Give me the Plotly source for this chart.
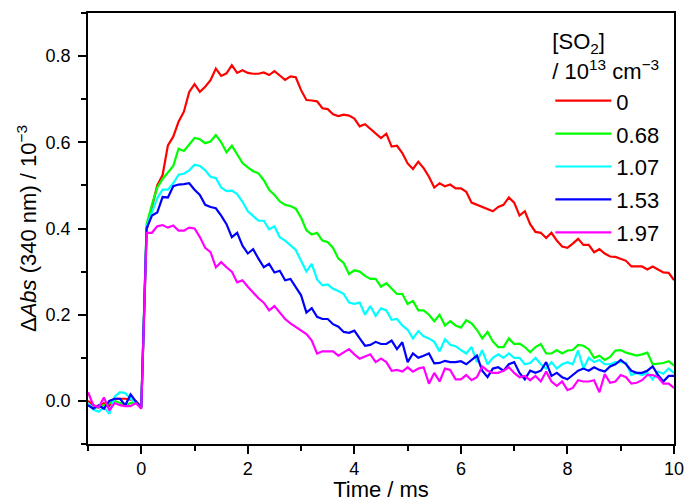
import plotly.graph_objects as go

time_ms = [round(-1.0 + 0.1 * i, 1) for i in range(111)]

so2_labels = ["0", "0.68", "1.07", "1.53", "1.97"]
line_colors = ["#FF0000", "#00FF00", "#00FFFF", "#0000FF", "#FF00FF"]

abs_0 = [0.0, -0.01, -0.015, -0.005, -0.012, 0.005, 0.005, 0.005, 0.003, 0.0, -0.015,
         0.396, 0.45, 0.5, 0.524, 0.593, 0.613, 0.648, 0.671, 0.717, 0.735,
         0.717, 0.729, 0.744, 0.771, 0.754, 0.76, 0.779, 0.761, 0.767, 0.761,
         0.759, 0.759, 0.762, 0.756, 0.765, 0.755, 0.745, 0.753, 0.751, 0.721,
         0.698, 0.697, 0.695, 0.679, 0.677, 0.665, 0.661, 0.664, 0.662, 0.655,
         0.637, 0.642, 0.632, 0.62, 0.61, 0.62, 0.59, 0.592, 0.575, 0.551,
         0.538, 0.555, 0.54, 0.52, 0.495, 0.505, 0.498, 0.502, 0.493, 0.493,
         0.485, 0.46, 0.455, 0.45, 0.445, 0.44, 0.45, 0.455, 0.472, 0.46,
         0.43, 0.44, 0.41, 0.392, 0.39, 0.378, 0.39, 0.372, 0.358, 0.355,
         0.365, 0.376, 0.362, 0.362, 0.345, 0.352, 0.342, 0.335, 0.334, 0.33,
         0.325, 0.312, 0.312, 0.312, 0.305, 0.312, 0.305, 0.298, 0.297, 0.28]

abs_068 = [-0.01, -0.015, -0.015, -0.01, -0.005, 0.0, -0.005, -0.01, -0.005, -0.002, -0.015,
           0.41, 0.455, 0.495, 0.515, 0.53, 0.545, 0.585, 0.58, 0.595, 0.61,
           0.607, 0.598, 0.602, 0.617, 0.6, 0.577, 0.592, 0.572, 0.552, 0.542,
           0.533, 0.528, 0.512, 0.49, 0.478, 0.463, 0.455, 0.452, 0.446, 0.425,
           0.396, 0.386, 0.39, 0.372, 0.368, 0.355, 0.33, 0.32, 0.294, 0.303,
           0.3, 0.29, 0.283, 0.283, 0.265, 0.273, 0.26, 0.248, 0.248, 0.225,
           0.232, 0.21, 0.21, 0.2, 0.185, 0.2, 0.175, 0.185, 0.175, 0.17,
           0.187, 0.18, 0.165, 0.145, 0.16, 0.138, 0.125, 0.125, 0.145, 0.132,
           0.133, 0.125, 0.113, 0.125, 0.132, 0.11, 0.11, 0.118, 0.11, 0.117,
           0.118, 0.13, 0.128, 0.12, 0.1, 0.105, 0.095, 0.102, 0.117, 0.118,
           0.112, 0.108, 0.105, 0.108, 0.112, 0.085, 0.087, 0.088, 0.092, 0.082]

abs_107 = [-0.005, -0.02, -0.025, -0.015, -0.03, 0.01, 0.02, 0.018, 0.005, -0.005, -0.015,
           0.405, 0.44, 0.47, 0.49, 0.49, 0.505, 0.525, 0.527, 0.535, 0.548,
           0.545, 0.535, 0.52, 0.517, 0.495, 0.487, 0.488, 0.48, 0.462, 0.44,
           0.43, 0.418, 0.418, 0.398, 0.405, 0.38, 0.372, 0.362, 0.35, 0.325,
           0.3, 0.318, 0.282, 0.268, 0.27, 0.26, 0.255, 0.248, 0.228, 0.225,
           0.228, 0.2, 0.22, 0.197, 0.215, 0.21, 0.188, 0.19, 0.175, 0.165,
           0.145, 0.162, 0.15, 0.145, 0.137, 0.115, 0.143, 0.13, 0.127, 0.118,
           0.11, 0.125, 0.09, 0.118, 0.085, 0.1, 0.108, 0.1, 0.11, 0.1,
           0.1, 0.085, 0.088, 0.1, 0.085, 0.075, 0.09, 0.075, 0.085, 0.09,
           0.085, 0.117, 0.075, 0.1, 0.09, 0.095, 0.085, 0.085, 0.09, 0.09,
           0.088, 0.06, 0.065, 0.06, 0.065, 0.05, 0.068, 0.063, 0.075, 0.065]

abs_153 = [-0.01, -0.018, -0.01, -0.018, 0.0, 0.005, 0.005, -0.01, 0.015, -0.002, -0.015,
           0.4, 0.43, 0.437, 0.473, 0.472, 0.498, 0.502, 0.503, 0.505, 0.49,
           0.478, 0.455, 0.45, 0.447, 0.43, 0.41, 0.38, 0.39, 0.36, 0.342,
           0.352, 0.33, 0.31, 0.318, 0.298, 0.302, 0.28, 0.283, 0.265, 0.245,
           0.205, 0.215, 0.195, 0.19, 0.19, 0.178, 0.172, 0.16, 0.158, 0.163,
           0.145, 0.128, 0.13, 0.137, 0.132, 0.132, 0.14, 0.12, 0.136, 0.09,
           0.11, 0.1, 0.105, 0.11, 0.087, 0.088, 0.093, 0.09, 0.09, 0.092,
           0.085, 0.095, 0.105, 0.07, 0.055, 0.075, 0.078, 0.07, 0.085, 0.09,
           0.065, 0.05, 0.07, 0.065, 0.07, 0.09, 0.058, 0.065, 0.055, 0.05,
           0.06, 0.07, 0.075, 0.07, 0.078, 0.072, 0.068, 0.08, 0.085, 0.095,
           0.085, 0.07, 0.065, 0.065, 0.07, 0.08, 0.06, 0.045, 0.058, 0.058]

abs_197 = [0.02, -0.01, -0.015, 0.008, -0.022, -0.005, -0.01, -0.012, -0.012, -0.005, -0.018,
           0.39, 0.39, 0.405, 0.408, 0.402, 0.407, 0.395, 0.395, 0.402, 0.4,
           0.38, 0.355, 0.345, 0.31, 0.322, 0.31, 0.3, 0.275, 0.28, 0.265,
           0.252, 0.238, 0.228, 0.21, 0.22, 0.205, 0.19, 0.18, 0.172, 0.162,
           0.155, 0.14, 0.11, 0.115, 0.115, 0.115, 0.105, 0.113, 0.12, 0.108,
           0.098, 0.103, 0.108, 0.09, 0.098, 0.09, 0.07, 0.072, 0.068, 0.078,
           0.068, 0.075, 0.078, 0.04, 0.065, 0.045, 0.075, 0.072, 0.05, 0.05,
           0.06, 0.048, 0.055, 0.08, 0.07, 0.065, 0.065, 0.07, 0.078, 0.065,
           0.055, 0.058, 0.048, 0.058, 0.045, 0.068, 0.045, 0.035, 0.045, 0.025,
           0.03, 0.048, 0.045, 0.045, 0.048, 0.02, 0.062, 0.042, 0.045, 0.06,
           0.055, 0.04, 0.042, 0.048, 0.06, 0.06, 0.055, 0.04, 0.04, 0.03]

series = [abs_0, abs_068, abs_107, abs_153, abs_197]

FONT = "Liberation Sans, Arial, sans-serif"
SPAN = '<span style="font-size:22px">{}</span>'

fig = go.Figure()
for lab, col, ys in zip(so2_labels, line_colors, series):
    fig.add_trace(go.Scatter(x=time_ms, y=ys, mode="lines", name=SPAN.format(lab),
                             line=dict(color=col, width=2.2)))

fig.update_layout(
    width=686, height=502,
    margin=dict(l=88, r=10, t=13, b=58),
    paper_bgcolor="white", plot_bgcolor="white",
    font=dict(family=FONT, size=18, color="black"),
    showlegend=True,
    legend=dict(
        x=0.789, xanchor="left", y=0.985, yanchor="top",
        bgcolor="rgba(0,0,0,0)", borderwidth=0,
        title=dict(text=SPAN.format("[SO<sub>2</sub>]") + "<br>" +
                   SPAN.format("/ 10<sup>13</sup> cm<sup>−3</sup>"),
                   font=dict(family=FONT, size=23, color="black")),
        font=dict(family=FONT, size=23, color="black"),
        tracegroupgap=0, itemwidth=56,
    ),
    xaxis=dict(
        range=[-1, 10], tick0=0, dtick=2, automargin="left",
        ticks="outside", ticklen=8, tickwidth=1.5, tickcolor="black",
        ticklabeloverflow="allow",
        minor=dict(ticks="outside", ticklen=5, dtick=1, tick0=0, tickcolor="black", tickwidth=1.5),
        showline=True, linecolor="black", linewidth=1.5, mirror=True,
        showgrid=False, zeroline=False,
        title=dict(text="Time / ms", standoff=5, font=dict(size=22)),
        tickfont=dict(size=18),
    ),
    yaxis=dict(
        range=[-0.1, 0.9], tick0=0, dtick=0.2, tickformat=".1f", automargin=True,
        ticks="outside", ticklen=8, tickwidth=1.5, tickcolor="black",
        ticklabelstandoff=4,
        minor=dict(ticks="outside", ticklen=5, dtick=0.1, tick0=0, tickcolor="black", tickwidth=1.5),
        showline=True, linecolor="black", linewidth=1.5, mirror=True,
        showgrid=False, zeroline=False,
        title=dict(text="Δ<i>Abs</i> (340 nm) / 10<sup>−3</sup>", standoff=3, font=dict(size=22)),
        tickfont=dict(size=18),
    ),
)

fig.write_html("out.html", config={"displayModeBar": False},
               post_script="document.body.style.margin='0';")
